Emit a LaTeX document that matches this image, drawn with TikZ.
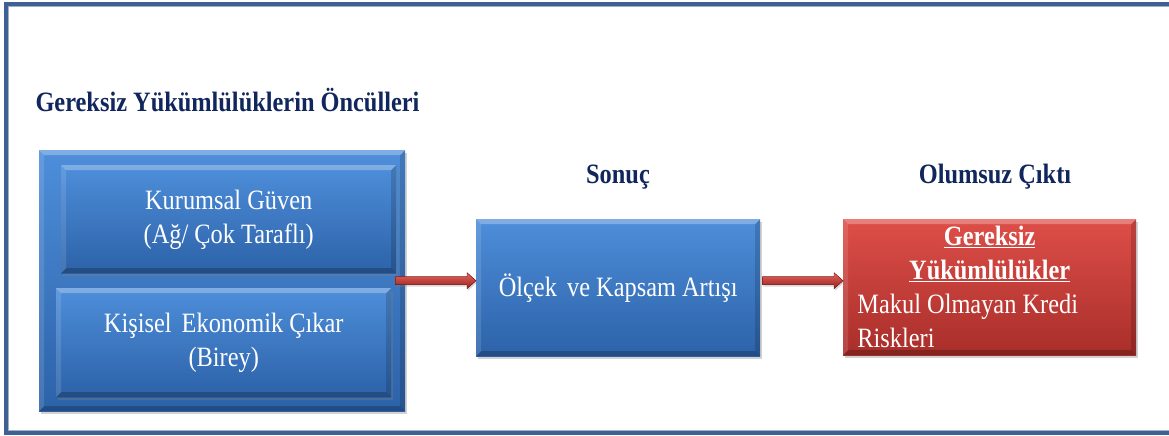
\documentclass[tikz,border=0pt]{standalone}
\usepackage{fontspec}
\setmainfont{Liberation Serif}
\usetikzlibrary{calc,shadows}
\definecolor{framecol}{RGB}{62,96,146}
\definecolor{navy}{RGB}{16,38,92}
\definecolor{bluetop}{RGB}{78,142,218}
\definecolor{bluebot}{RGB}{44,98,168}
\definecolor{redtop}{RGB}{222,78,72}
\definecolor{redbot}{RGB}{168,46,42}
\definecolor{arrtop}{RGB}{232,100,92}
\definecolor{arrbot}{RGB}{150,32,28}
\newcommand\sq[1]{\scalebox{0.87}[1]{#1}}
\newcommand\bigfont{\fontsize{28}{34}\selectfont}
\tikzset{
  bevel/.style={path picture={
    \fill[white,opacity=0.28] (path picture bounding box.north west) -- (path picture bounding box.north east)
      -- ([xshift=-5pt,yshift=-5pt]path picture bounding box.north east) -- ([xshift=5pt,yshift=-5pt]path picture bounding box.north west) -- cycle;
    \fill[white,opacity=0.12] (path picture bounding box.north west) -- ([xshift=5pt,yshift=-5pt]path picture bounding box.north west)
      -- ([xshift=5pt,yshift=5pt]path picture bounding box.south west) -- (path picture bounding box.south west) -- cycle;
    \fill[black,opacity=0.22] (path picture bounding box.south west) -- (path picture bounding box.south east)
      -- ([xshift=-5pt,yshift=5pt]path picture bounding box.south east) -- ([xshift=5pt,yshift=5pt]path picture bounding box.south west) -- cycle;
    \fill[black,opacity=0.15] (path picture bounding box.north east) -- ([xshift=-5pt,yshift=-5pt]path picture bounding box.north east)
      -- ([xshift=-5pt,yshift=5pt]path picture bounding box.south east) -- (path picture bounding box.south east) -- cycle;
  }},
  bluebox/.style={rectangle, inner sep=0pt, anchor=north west, top color=bluetop, bottom color=bluebot,
    bevel, drop shadow={opacity=0.35, shadow xshift=2pt, shadow yshift=-3pt},
    text=white, font=\bigfont, align=center},
  redbox/.style={bluebox, top color=redtop, bottom color=redbot},
  head/.style={anchor=base, text=navy, font=\bigfont\bfseries},
  redarrow/.style={top color=arrtop, bottom color=arrbot, draw=arrbot!80!black, line width=0.4pt,
    drop shadow={opacity=0.3, shadow xshift=1pt, shadow yshift=-2pt}}
}
\newcommand\redarr[2]{%
  \fill[redarrow] ($(#1)+(0,-4)$) -- ($(#2)+(-9,-4)$) -- ($(#2)+(-9,-8)$) -- (#2)
    -- ($(#2)+(-9,8)$) -- ($(#2)+(-9,4)$) -- ($(#1)+(0,4)$) -- cycle;}
\begin{document}
\begin{tikzpicture}[x=1pt,y=-1pt]
\useasboundingbox (0,0) rectangle (1169,436);
\fill[white] (0,0) rectangle (1169,436);
% frame
\draw[framecol, line width=4pt] (1185,4) -- (6,4) -- (6,433) -- (1185,433);
\draw[framecol!50!white, line width=0.8pt] (1185,6.5) -- (8.5,6.5) -- (8.5,430.5) -- (1185,430.5);

% headings
\node[head, anchor=base west] (h1) at (32,111) {\sq{Gereksiz Yükümlülüklerin Öncülleri}};
\node[head] (h2) at (618,183) {\sq{Sonuç}};
\node[head] (h3) at (995,183) {\sq{Olumsuz Çıktı}};

% left group
\node[bluebox, minimum width=366pt, minimum height=261pt] (outer) at (39,150) {};
\node[bluebox, minimum width=335pt, minimum height=108pt] (inA) at (61,165)
  {\sq{\begin{tabular}{@{}c@{}}Kurumsal Güven\\(Ağ/ Çok Taraflı)\end{tabular}}};
\node[bluebox, minimum width=335pt, minimum height=109pt] (inB) at (56,288)
  {\sq{\begin{tabular}{@{}c@{}}Kişisel\, Ekonomik Çıkar\\(Birey)\end{tabular}}};

% middle
\node[bluebox, minimum width=284pt, minimum height=137pt] (mid) at (476,219)
  {\sq{Ölçek\, ve Kapsam Artışı}};

% red
\node[redbox, minimum width=293pt, minimum height=136pt] (out) at (843,219)
  {\sq{\parbox{304pt}{\centering\bfseries\underline{Gereksiz}\\\underline{Yükümlülükler}\par
   \raggedright\mdseries Makul Olmayan Kredi\\Riskleri\par}}};

% arrows
\coordinate (a1s) at ($(outer.east)+(-10,0)$);
\coordinate (a1e) at (a1s -| mid.west);
\coordinate (a2s) at ($(a1s -| mid.east)+(2,0)$);
\coordinate (a2e) at (a1s -| out.west);
\redarr{a1s}{a1e}
\redarr{a2s}{a2e}
\end{tikzpicture}
\end{document}
